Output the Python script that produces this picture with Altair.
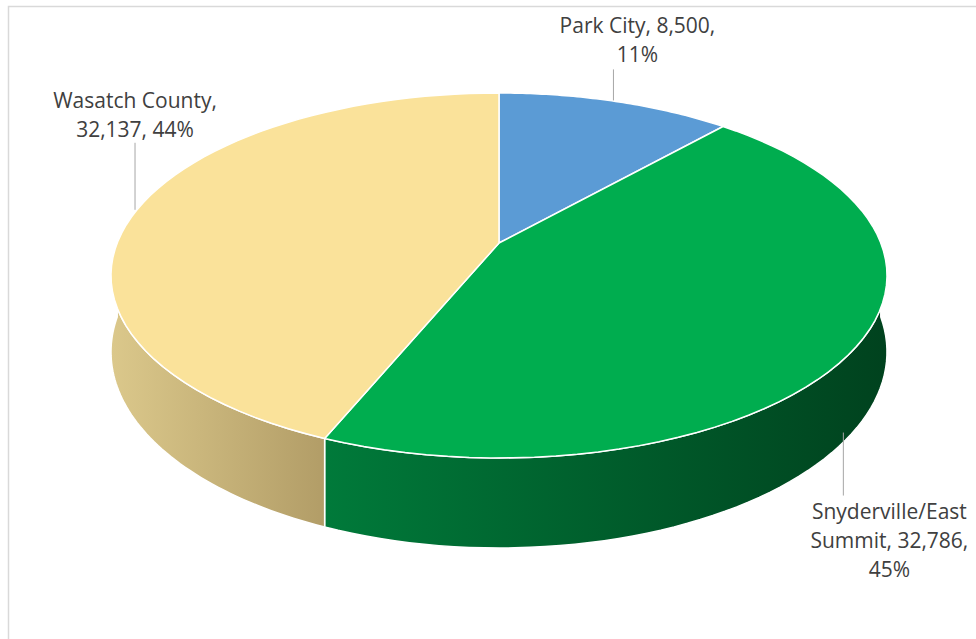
import textwrap
import altair as alt
import pandas as pd

# ---- data ----
categories = ["Park City", "Snyderville/East Summit", "Wasatch County"]
values = [8500, 32786, 32137]
percents = [11, 45, 44]          # as printed on the labels

# ---- styles ----
top_colors = ["#5B9BD5", "#00AD4F", "#FAE29A"]
side_gradients = [
    ["#4a80b3", "#2c5680"],
    ["#007a3a", "#00421e"],
    ["#dbc88b", "#b29d67"],
]
wrap_widths = [17, 16, 15]
# label layout, pixel offsets from the slice's mid-angle point on the rim
lead_dx = [-2, -13, -2]
lead_y0 = [-1, 86, 0]
lead_y1 = [-32, 149, -67]
text_dx = [22, 33, -2]
text_dy = [-68, 172, -102]

# projection parameters (pixels)
CX, CY = 499.0, 243.0     # pie centre
A, B = 381.8, 176.7       # horizontal / vertical radius scale
K = 0.178                 # perspective strength
DEPTH = 74.0 / B          # thickness (in y units)
W, H = 976, 639
N = 60

labels = []
for c, v, p, ww in zip(categories, values, percents, wrap_widths):
    full = f"{c}, {v:,}, {p}%"
    labels.append("\n".join(textwrap.wrap(full, ww)))

df = pd.DataFrame({
    "category": categories,
    "value": values,
    "idx": list(range(len(categories))),
    "label": labels,
    "ldx": lead_dx, "ly0": lead_y0, "ly1": lead_y1,
    "tdx": text_dx, "tdy": text_dy,
})

xscale = alt.Scale(domain=[-CX / A, (W - CX) / A], nice=False, zero=False)
yscale = alt.Scale(domain=[(CY - H) / B, CY / B], nice=False, zero=False)
X = alt.X("X:Q", scale=xscale, axis=None)
Y = alt.Y("Y:Q", scale=yscale, axis=None)


def base():
    return (
        alt.Chart(df)
        .transform_joinaggregate(total="sum(value)")
        .transform_window(cum="sum(value)", sort=[alt.SortField("idx")], frame=[None, 0])
        .transform_calculate(a0="2*PI*(datum.cum-datum.value)/datum.total")
        .transform_calculate(a1="2*PI*datum.cum/datum.total")
    )


# ---- sides (front wall), one layer per slice for its own gradient ----
sides = []
for cat, stops in zip(categories, side_gradients):
    grad = alt.LinearGradient(
        gradient="linear",
        stops=[alt.GradientStop(color=stops[0], offset=0),
               alt.GradientStop(color=stops[1], offset=1)],
        x1=0, x2=1, y1=0, y2=0,
    )
    s = (
        base()
        .transform_filter(alt.datum.category == cat)
        .transform_calculate(s0="max(datum.a0, PI/2)")
        .transform_calculate(s1="min(datum.a1, 3*PI/2)")
        .transform_filter("datum.s1 > datum.s0")
        .transform_calculate(seq=f"sequence(0, {2 * N + 3})")
        .transform_flatten(["seq"])
        .transform_calculate(bot=f"datum.seq > {N} && datum.seq <= {2 * N + 1}")
        .transform_calculate(k=f"datum.seq <= {N} ? datum.seq : (datum.bot ? {2 * N + 1} - datum.seq : 0)")
        .transform_calculate(t=f"datum.s0 + (datum.s1 - datum.s0) * datum.k / {N}")
        .transform_calculate(u="sin(datum.t)")
        .transform_calculate(v="cos(datum.t)")
        .transform_calculate(w=f"1 + {K} * datum.v")
        .transform_calculate(X="datum.u / datum.w")
        .transform_calculate(Y=f"datum.v / datum.w - (datum.bot ? {DEPTH} / datum.w : 0)")
        .mark_line(filled=True, fill=grad, stroke="white", strokeWidth=1.5, strokeJoin="round")
        .encode(x=X, y=Y, order="seq:Q", detail="category:N")
    )
    sides.append(s)

# ---- top faces ----
top = (
    base()
    .transform_calculate(seq=f"sequence(-1, {N + 2})")
    .transform_flatten(["seq"])
    .transform_calculate(c=f"datum.seq < 0 || datum.seq > {N}")
    .transform_calculate(t=f"datum.a0 + (datum.a1 - datum.a0) * clamp(datum.seq, 0, {N}) / {N}")
    .transform_calculate(u="datum.c ? 0 : sin(datum.t)")
    .transform_calculate(v="datum.c ? 0 : cos(datum.t)")
    .transform_calculate(w=f"1 + {K} * datum.v")
    .transform_calculate(X="datum.u / datum.w")
    .transform_calculate(Y="datum.v / datum.w")
    .mark_line(filled=True, stroke="white", strokeWidth=1.5, strokeJoin="round")
    .encode(
        x=X, y=Y, order="seq:Q", detail="category:N",
        color=alt.Color("category:N", scale=alt.Scale(domain=categories, range=top_colors), legend=None),
    )
)

# ---- labels ----
lab = (
    base()
    .transform_calculate(m="(datum.a0 + datum.a1) / 2")
    .transform_calculate(u="sin(datum.m)")
    .transform_calculate(v="cos(datum.m)")
    .transform_calculate(w=f"1 + {K} * datum.v")
    .transform_calculate(PX="datum.u / datum.w")
    .transform_calculate(PY="datum.v / datum.w")
    .transform_calculate(LX=f"datum.PX + datum.ldx / {A}")
    .transform_calculate(LY0=f"datum.PY - datum.ly0 / {B}")
    .transform_calculate(LY1=f"datum.PY - datum.ly1 / {B}")
    .transform_calculate(TX=f"datum.PX + datum.tdx / {A}")
    .transform_calculate(TY=f"datum.PY - datum.tdy / {B}")
)
leaders = lab.mark_rule(color="#a6a6a6", strokeWidth=1).encode(
    x=alt.X("LX:Q", scale=xscale, axis=None),
    y=alt.Y("LY0:Q", scale=yscale, axis=None),
    y2="LY1:Q",
)
texts = lab.mark_text(
    font="Open Sans", fontSize=21, lineBreak="\n", lineHeight=29,
    align="center", baseline="alphabetic", color="#404040",
).encode(
    x=alt.X("TX:Q", scale=xscale, axis=None),
    y=alt.Y("TY:Q", scale=yscale, axis=None),
    text="label:N",
)

border = alt.Chart(pd.DataFrame({"a": [0]})).mark_rect(
    fill="transparent", stroke="#d9d9d9", strokeWidth=1.5
).encode(x=alt.value(8.5), x2=alt.value(W + 20), y=alt.value(6.5), y2=alt.value(H + 20))

chart = (
    alt.layer(border, *sides, top, leaders, texts)
    .properties(width=W, height=H, padding=0, autosize="none", background="white")
    .configure_view(stroke="transparent")
)

chart.save("out.html", embed_options={"renderer": "svg", "actions": False})
